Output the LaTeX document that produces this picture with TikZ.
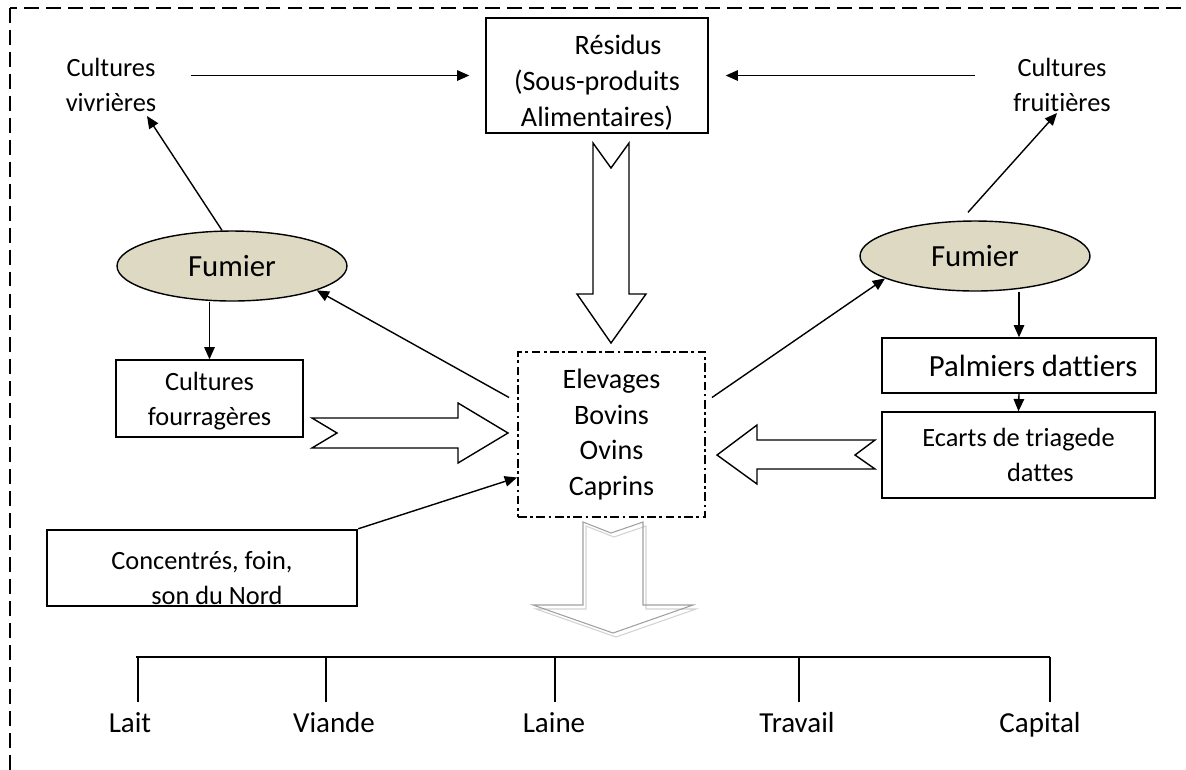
\documentclass[tikz,border=0pt]{standalone}
\usepackage{fontspec}
\setmainfont{Carlito}[Ligatures=CommonOff]
\definecolor{fumbeige}{HTML}{DDD9C3}
\usetikzlibrary{shapes,arrows.meta,positioning,calc}

\begin{document}
\begin{tikzpicture}[x=0.02cm, y=-0.02cm,
  boite/.style={draw, line width=0.8pt, align=center, inner sep=0pt},
  texte/.style={align=center, inner sep=0pt},
  petit/.style={font=\fontsize{15}{19.8}\selectfont},
  moyen/.style={font=\fontsize{16}{20.4}\selectfont},
  fumier/.style={ellipse, draw, line width=0.8pt, fill=fumbeige, minimum width=4.6cm, minimum height=1.4cm, font=\fontsize{17.5}{21}\selectfont},
  fleche/.style={-{Triangle[length=7pt,width=6pt]}, line width=0.8pt},
  bloc/.style={draw, line width=0.8pt, fill=white, line join=miter},
  produit/.style={font=\fontsize{16.5}{20}\selectfont, anchor=base, inner sep=1pt}]
\useasboundingbox (0,0) rectangle (1186,769);
\clip (0,0) rectangle (1186,769);
\draw[dash pattern=on 8.5pt off 4pt, line width=0.75pt] (10,8) rectangle (1220,800);

% sources
\node[texte, petit] (viv) at (111,85) {Cultures\\vivrières};
\node[texte, petit] (fru) at (1062,85) {Cultures\\fruitières};
\node[boite, moyen, minimum width=4.44cm, minimum height=2.3cm] (res) at (597,75.5) {\rule{0pt}{19pt}\hspace*{24pt}Résidus\\(Sous-produits\\Alimentaires)};
\node[fumier] (fumG) at (232,266) {Fumier};
\node[fumier] (fumD) at (975,256) {Fumier};
\node[boite, petit, minimum width=3.74cm, minimum height=1.54cm] (fou) at (209.5,398.5) {\rule{0pt}{13pt}Cultures\\fourragères};
\node[boite, moyen, minimum width=3.74cm, minimum height=3.3cm, line width=1.1pt, dash pattern=on 5pt off 2pt on 1.5pt off 2pt] (elev) at (611.5,434.5) {Elevages\\Bovins\\Ovins\\Caprins};
\node[boite, minimum width=5.48cm, minimum height=1.1cm, font=\fontsize{17.5}{21}\selectfont] (pal) at (1019,365.5) {\hspace*{16pt}Palmiers dattiers};
\node[boite, petit, minimum width=5.46cm, minimum height=1.72cm] (eca) at (1018.5,455) {Ecarts de triagede\\\hspace*{25pt}dattes};
\node[boite, petit, minimum width=6.2cm, minimum height=1.52cm, line width=1.4pt] (con) at (202,568) {\rule{0pt}{22pt}Concentrés, foin,\\\hspace*{17pt}son du Nord};

% fleches simples
\draw[fleche, shorten <=0.68cm, shorten >=0.32cm] (viv.east |- res.west) -- (res.west);
\draw[fleche, shorten <=0.76cm, shorten >=0.34cm] (fru.west |- res.east) -- (res.east);
\draw[fleche] ($(fumG.north)+(-10,0)$) -- ($(viv.south)+(36,4)$);
\draw[fleche] ($(fumD.north)+(-7,-8)$) -- ($(fru.south)+(-5,1)$);
\draw[fleche] (fou.north |- fumG.south) -- (fou.north);
\draw[fleche] (pal.north |- fumD.south) -- (pal.north);
\draw[fleche] (pal.south) -- (eca.north);
\draw[fleche] ($(elev.west)+(-8,-37)$) -- (fumG.-16);
\draw[fleche] ($(elev.east)+(6,-37)$) -- (fumD.-166);
\draw[fleche] (con.north east) -- ($(elev.west)+(0,43)$);

% grosses fleches
\draw[bloc] (593,143) -- (611,168) -- (629,143) -- (629,294) -- (646,294) -- (611,343) -- (577,294) -- (593,294) -- cycle;
\draw[bloc] (312,418) -- (337,433) -- (312,448) -- (458,448) -- (458,463) -- (508,433) -- (458,403) -- (458,418) -- cycle;
\draw[bloc] (875,440) -- (855,455) -- (875,469) -- (757,469) -- (757,484) -- (717,455) -- (757,425) -- (757,440) -- cycle;
\draw[gray!35, line width=0.6pt, shift={(3,4)}] (583,522) -- (611,533) -- (643,522) -- (643,605) -- (693,605) -- (613,633) -- (533,605) -- (583,605) -- cycle;
\draw[gray!75, line width=0.6pt] (583,522) -- (611,533) -- (643,522) -- (643,605) -- (693,605) -- (613,633) -- (533,605) -- (583,605) -- cycle;

% produits
\foreach \xb/\xt/\lab [count=\i] in {138/130/Lait, 326/334/Viande, 555/554/Laine, 799/797/Travail, 1050/1040/Capital}{
  \coordinate (b\i) at (\xb,657);
  \node[produit] (p\i) at (\xt,732) {\lab};
  \draw[line width=0.8pt] (b\i) -- (b\i |- 0,702);
}
\draw[line width=1.1pt] ($(b1)+(-2,0)$) -- (b5);
\end{tikzpicture}
\end{document}
